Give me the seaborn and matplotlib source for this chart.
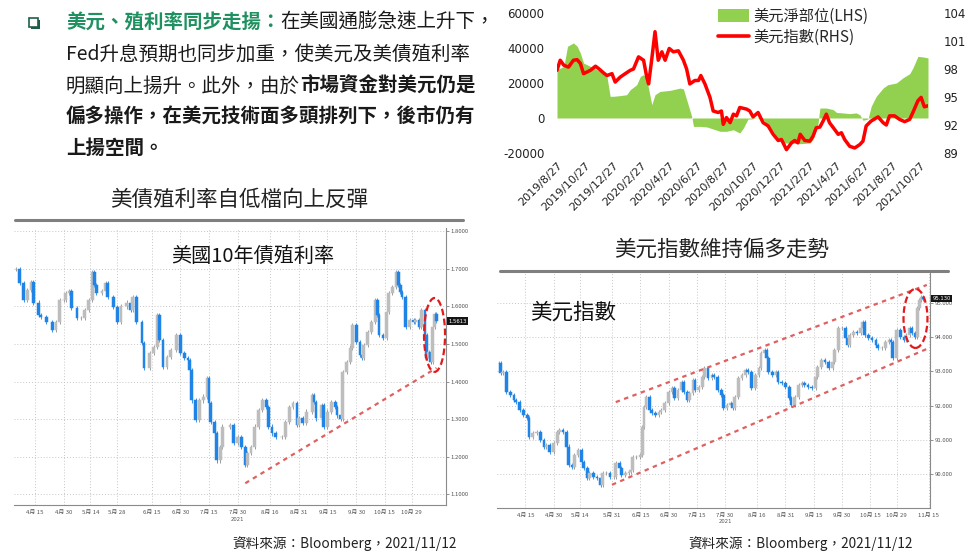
import numpy as np
import pandas as pd
import matplotlib
matplotlib.use("Agg")
import matplotlib.pyplot as plt
import matplotlib.transforms as mtransforms
import matplotlib.dates as mdates
from matplotlib.patches import Ellipse, Rectangle
from matplotlib.lines import Line2D
import seaborn as sns

sns.set_theme(style="white")
plt.rcParams['font.family'] = ['Noto Sans CJK TC', 'DejaVu Sans']
plt.rcParams['axes.unicode_minus'] = False

# ------------------------------------------------------------------ data
# Top-right: USD net position (LHS, weekly) and US dollar index (RHS)
pos_start = "2019-08-27"
pos_days = [0, 15, 23, 36, 44, 51, 58, 73, 87, 102,
            109, 116, 123, 138, 152, 160, 174, 182, 189, 196,
            207, 214, 225, 247, 269, 276, 283, 294, 298, 312,
            327, 341, 356, 370, 385, 399, 407, 417, 425, 436,
            450, 465, 472, 483, 494, 508, 530, 552, 559, 570,
            574, 588, 603, 610, 624, 639, 653, 661, 668, 679,
            686, 697, 712, 722, 741, 755, 770, 777, 788, 799, 810]
pos_values = [27600, 29500, 41000, 42900, 41000, 37100, 31400, 29500, 27600, 25700,
              23800, 12400, 12400, 12800, 13300, 16200, 19000, 23800, 24800, 21900,
              7600, 13300, 15200, 15800, 17100, 16600, 10500, 950, -4800, -4800,
              -5100, -6300, -7600, -7600, -6700, -8600, -5700, -570, -570, 0,
              -950, -4800, -7600, -12400, -14300, -14300, -14700, -14300, -12400, -2900,
              5700, 5700, 4800, 3200, 2900, 2500, 2900, 1900, -1300, -570,
              6700, 12400, 17100, 19000, 20000, 22900, 25300, 28600, 35200, 34900, 34300]
dxyw_days = [0, 7, 15, 25, 36, 44, 51, 58, 73, 84,
             91, 102, 109, 120, 127, 138, 149, 160, 167, 178,
             189, 196, 200, 207, 214, 221, 229, 236, 245, 254,
             265, 276, 283, 290, 301, 309, 314, 323, 334, 341,
             352, 359, 363, 370, 378, 385, 392, 399, 414, 421,
             428, 439, 450, 461, 472, 483, 490, 501, 512, 519,
             526, 531, 541, 552, 559, 566, 574, 581, 588, 595,
             606, 614, 621, 628, 639, 650, 661, 668, 675, 686,
             701, 712, 719, 726, 737, 748, 759, 770, 777, 788,
             795, 802, 810]
dxyw_values = [97.86, 98.94, 98.4, 98.2, 98.94, 99.0, 98.6, 97.5, 97.86, 98.3,
               98.04, 97.57, 97.3, 97.5, 96.6, 97.13, 97.5, 97.86, 98.0, 99.3,
               98.94, 97.13, 96.4, 99.1, 102.0, 98.94, 99.84, 98.94, 100.2, 99.84,
               99.95, 98.94, 98.0, 96.4, 96.77, 96.77, 97.3, 96.4, 94.96, 93.5,
               93.34, 93.5, 92.07, 92.8, 92.25, 93.16, 92.98, 93.88, 93.7, 93.5,
               92.87, 93.34, 92.25, 91.9, 91.0, 90.34, 90.45, 89.36, 90.09, 90.34,
               90.09, 91.0, 90.34, 90.27, 90.8, 91.7, 91.78, 92.43, 93.16, 92.25,
               91.53, 91.0, 91.17, 90.45, 89.72, 89.54, 89.9, 90.27, 91.9, 92.43,
               92.87, 92.25, 92.0, 92.98, 92.98, 92.6, 92.36, 92.6, 93.34, 94.6,
               94.96, 93.95, 94.06]
top_ticks = ["2019-08-27", "2019-10-27", "2019-12-27", "2020-02-27", "2020-04-27",
             "2020-06-27", "2020-08-27", "2020-10-27", "2020-12-27", "2021-02-27",
             "2021-04-27", "2021-06-27", "2021-08-27", "2021-10-27"]
top_tick_labels = ["2019/8/27", "2019/10/27", "2019/12/27", "2020/2/27", "2020/4/27",
                   "2020/6/27", "2020/8/27", "2020/10/27", "2020/12/27", "2021/2/27",
                   "2021/4/27", "2021/6/27", "2021/8/27", "2021/10/27"]
legend_labels = ["美元淨部位(LHS)", "美元指數(RHS)"]

# Bottom-left: US 10Y yield candles (closes; open = previous close)
y10_start = "2021-04-05"
y10_days = [0, 2, 4, 6, 8, 9, 12, 13, 16, 19,
            21, 23, 25, 26, 28, 29, 32, 34, 36, 38,
            40, 41, 42, 45, 47, 48, 51, 53, 55, 58,
            60, 61, 63, 66, 67, 70, 72, 74, 75, 77,
            79, 81, 84, 86, 88, 90, 91, 92, 94, 96,
            98, 100, 101, 102, 104, 105, 107, 108, 112, 114,
            116, 118, 120, 121, 123, 125, 127, 129, 131, 132,
            134, 136, 139, 141, 143, 145, 147, 148, 150, 152,
            155, 156, 157, 160, 161, 163, 165, 167, 168, 170,
            171, 173, 175, 176, 178, 180, 181, 182, 184, 186,
            188, 189, 190, 192, 194, 195, 197, 199, 200, 201,
            202, 204, 206, 208, 209, 211, 212, 214, 215, 216,
            217, 218, 219, 220]
y10_close = [1.700, 1.663, 1.617, 1.644, 1.665, 1.610, 1.577, 1.572, 1.559, 1.537,
             1.559, 1.617, 1.617, 1.636, 1.640, 1.596, 1.569, 1.569, 1.590, 1.617,
             1.692, 1.657, 1.636, 1.640, 1.663, 1.625, 1.599, 1.559, 1.600, 1.610,
             1.590, 1.625, 1.559, 1.503, 1.436, 1.476, 1.492, 1.577, 1.510, 1.440,
             1.465, 1.484, 1.524, 1.476, 1.462, 1.457, 1.430, 1.350, 1.297, 1.350,
             1.360, 1.410, 1.343, 1.292, 1.262, 1.190, 1.225, 1.280, 1.284, 1.236,
             1.252, 1.225, 1.177, 1.209, 1.225, 1.280, 1.324, 1.350, 1.332, 1.280,
             1.262, 1.252, 1.252, 1.292, 1.332, 1.343, 1.284, 1.302, 1.289, 1.320,
             1.364, 1.345, 1.302, 1.337, 1.280, 1.320, 1.345, 1.332, 1.310, 1.300,
             1.425, 1.452, 1.490, 1.550, 1.505, 1.470, 1.462, 1.497, 1.532, 1.559,
             1.617, 1.577, 1.524, 1.516, 1.585, 1.636, 1.652, 1.692, 1.657, 1.639,
             1.625, 1.545, 1.564, 1.559, 1.564, 1.545, 1.590, 1.524, 1.462, 1.479,
             1.452, 1.545, 1.580, 1.561]
y10_ticks = ["2021-04-15", "2021-04-30", "2021-05-14", "2021-05-28", "2021-06-15",
             "2021-06-30", "2021-07-15", "2021-07-30", "2021-08-16", "2021-08-31",
             "2021-09-15", "2021-09-30", "2021-10-15", "2021-10-29"]
y10_tick_labels = ["4月 15", "4月 30", "5月 14", "5月 28", "6月 15", "6月 30", "7月 15",
                   "7月 30", "8月 16", "8月 31", "9月 15", "9月 30", "10月 15", "10月 29"]
y10_levels = [1.1, 1.2, 1.3, 1.4, 1.5, 1.6, 1.7, 1.8]
y10_trend = (["2021-08-03", "2021-11-11"], [1.129, 1.436])

# Bottom-right: US dollar index candles
dxy_start = "2021-04-01"
dxy_days = [0, 1, 2, 4, 6, 8, 9, 11, 13, 15,
            16, 18, 20, 22, 24, 25, 27, 29, 31, 32,
            34, 36, 37, 39, 40, 42, 44, 45, 47, 48,
            50, 52, 54, 55, 57, 59, 61, 62, 64, 65,
            67, 69, 70, 71, 73, 75, 76, 77,
            78, 80, 81, 83, 85, 86, 88, 90, 92, 93,
            95, 97, 98, 100, 101, 103, 104, 106, 108, 109,
            111, 113, 114, 116, 118, 119, 121, 123, 124, 125,
            127, 129, 131, 132, 134, 136, 138, 139, 141, 142,
            143, 145, 147, 148, 150,
            152, 154, 155, 157, 159, 161, 162, 164, 166, 168,
            169, 171, 173, 175, 177, 178, 180, 182, 184, 185,
            186, 188, 190, 192, 193, 194, 196, 198, 200, 201,
            203, 205, 207, 208, 209, 211, 213, 215, 216, 218,
            219, 221, 222, 223, 224, 225]
dxy_close = [93.25, 92.95, 92.98, 92.4, 92.31, 92.16, 92.1, 91.87, 91.73, 91.64,
             91.08, 91.2, 91.23, 91.0, 90.8, 90.85, 90.64, 90.9, 91.23, 91.29,
             91.23, 90.8, 90.26, 90.2, 90.56, 90.7, 90.35, 90.18, 89.88, 90.03,
             89.91, 89.88, 89.68, 90.03, 90.03, 89.91, 89.91, 90.32, 90.18, 89.97,
             90.03, 90.06, 90.12, 90.5, 90.5, 90.56, 91.37, 91.96,
             92.25, 91.87, 91.78, 91.73, 91.81, 91.87, 92.07, 92.4, 92.51, 92.22,
             92.46, 92.69, 92.4, 92.16, 92.37, 92.75, 92.46, 92.54, 92.84, 93.1,
             92.81, 92.9, 92.84, 92.46, 92.31, 91.93, 92.02, 92.07, 91.93, 92.25,
             92.81, 92.9, 93.04, 92.98, 92.51, 92.9, 93.1, 93.54, 93.63, 93.39,
             92.98, 92.9, 92.98, 92.69, 92.66,
             92.54, 92.22, 92.02, 92.25, 92.6, 92.66, 92.6, 92.54, 92.51, 92.84,
             93.13, 93.33, 93.27, 93.1, 93.27, 93.63, 94.27, 94.27, 93.98, 93.77,
             94.06, 94.15, 94.12, 94.27, 94.44, 94.06, 93.98, 93.92, 93.77, 93.68,
             93.68, 93.86, 93.92, 93.86, 93.39, 94.21, 94.01, 93.92, 94.06, 94.27,
             94.12, 94.01, 94.85, 95.09, 95.17, 95.13]
dxy_ticks = ["2021-04-15", "2021-04-30", "2021-05-14", "2021-05-31", "2021-06-15",
             "2021-06-30", "2021-07-15", "2021-07-30", "2021-08-16", "2021-08-31",
             "2021-09-15", "2021-09-30", "2021-10-15", "2021-10-29", "2021-11-15"]
dxy_tick_labels = ["4月 15", "4月 30", "5月 14", "5月 31", "6月 15", "6月 30", "7月 15",
                   "7月 30", "8月 16", "8月 31", "9月 15", "9月 30", "10月 15", "10月 29",
                   "11月 15"]
dxy_levels = [90, 91, 92, 93, 94, 95]
dxy_upper = (["2021-06-02", "2021-11-14"], [92.1, 95.53])
dxy_lower = (["2021-05-31", "2021-11-15"], [89.68, 93.68])

# ------------------------------------------------------------------ style
W, H = 970, 556
GREEN = "#92D050"
RED = "#FF0000"
BLUE = "#1f84e6"
GREY = "#bdbdbd"
TREND = "#e06060"
TXT_GREEN = "#1f9160"

fig = plt.figure(figsize=(W / 100, H / 100), dpi=100)
fig.patch.set_facecolor("white")


def fbox(x0, y0, x1, y1):
    return [x0 / W, 1 - y1 / H, (x1 - x0) / W, (y1 - y0) / H]


def to_dates(start, days):
    return pd.Timestamp(start) + pd.to_timedelta(days, unit="D")


# ------------------------------------------------------------------ top-right chart
ax1 = fig.add_axes(fbox(557, 13, 928, 153))
pos_dates = to_dates(pos_start, pos_days)
dxyw_dates = to_dates(pos_start, dxyw_days)
ax1.fill_between(pos_dates, pos_values, 0, color=GREEN, linewidth=0)
ax1.set_ylim(-20000, 60000)
ax1.set_yticks([-20000, 0, 20000, 40000, 60000])
ax2 = ax1.twinx()
df_line = pd.DataFrame({"date": dxyw_dates, "value": dxyw_values})
sns.lineplot(data=df_line, x="date", y="value", ax=ax2, color=RED, linewidth=2.5)
ax2.set_ylim(89, 104)
ax2.set_yticks([89, 92, 95, 98, 101, 104])
ax1.set_xlim(pos_dates[0], pos_dates[-1])
ax1.set_xticks(pd.to_datetime(top_ticks))
ax1.set_xticklabels(top_tick_labels, rotation=45, ha="right", rotation_mode="anchor",
                    fontsize=8, family="DejaVu Sans", color="#222")
for a in (ax1, ax2):
    for s in a.spines.values():
        s.set_visible(False)
    a.set_xlabel("")
    a.set_ylabel("")
    a.set_facecolor("none")
ax1.tick_params(axis="y", length=0, pad=9, labelsize=8.5, labelcolor="#222")
ax1.tick_params(axis="x", length=0, pad=5)
ax2.tick_params(axis="y", length=0, pad=11, labelsize=8.5, labelcolor="#222")
for lab in ax1.get_yticklabels() + ax2.get_yticklabels():
    lab.set_family("DejaVu Sans")
handles = [Rectangle((0, 0), 1, 1, fc=GREEN, ec="none"),
           Line2D([], [], color=RED, lw=2.6)]
fig.legend(handles, legend_labels, loc="upper left",
           bbox_to_anchor=(718 / W, 1 - 8 / H), frameon=False, fontsize=11,
           handlelength=2.0, handleheight=0.9, handletextpad=0.3, labelspacing=0.25,
           borderaxespad=0, borderpad=0)


# ------------------------------------------------------------------ candle helper
def candle_chart(box, start, days, closes, levels, fmt, ticks, tick_labels,
                 xpad_right, wick, tag):
    ax = fig.add_axes(fbox(*box))
    dates = to_dates(start, days)
    c = np.asarray(closes, float)
    o = np.r_[c[0], c[:-1]]
    down = c < o
    lo = np.minimum(o, c)
    hi = np.maximum(o, c)
    body_col = np.where(down, BLUE, GREY)
    wick_col = np.where(down, BLUE, "#8e8e8e")
    ax.vlines(dates, lo - wick, hi + wick, colors=wick_col, linewidth=0.6, zorder=2)
    ax.bar(dates, hi - lo, bottom=lo, width=1.45, color=body_col,
           edgecolor=body_col, linewidth=0.35, zorder=3)
    s = pd.Timestamp(start)
    ax.set_xlim(s - pd.Timedelta(days=1), s + pd.Timedelta(days=xpad_right))
    ax.set_yticks(levels)
    ax.set_yticklabels([fmt.format(v) for v in levels])
    ax.yaxis.tick_right()
    ax.set_xticks(pd.to_datetime(ticks))
    ax.set_xticklabels(tick_labels)
    ax.grid(True, axis="both", linestyle=(0, (1, 2)), color="#c6c6c6", linewidth=0.7)
    ax.set_axisbelow(True)
    ax.tick_params(axis="both", labelsize=4.3, length=2, width=0.5, pad=1.5,
                   colors="#666", labelcolor="#555")
    for side in ("top", "left"):
        ax.spines[side].set_visible(False)
    for side in ("right", "bottom"):
        ax.spines[side].set_color("#8a8a8a")
        ax.spines[side].set_linewidth(0.8)
    ax.set_facecolor("white")
    # year label under July 30
    tr = mtransforms.blended_transform_factory(ax.transData, ax.transAxes)
    ax.text(mdates.date2num(pd.Timestamp("2021-07-30")), -0.045, "2021", transform=tr,
            fontsize=3.8, ha="center", va="top", color="#555", family="DejaVu Sans")
    # last value tag
    tr2 = mtransforms.blended_transform_factory(ax.transAxes, ax.transData)
    ax.text(1.006, c[-1], tag, transform=tr2, fontsize=3.8, color="white",
            ha="left", va="center", family="DejaVu Sans", clip_on=False,
            bbox=dict(boxstyle="square,pad=0.25", fc="#151515", ec="none"))
    return ax


# ------------------------------------------------------------------ bottom-left (10Y yield)
axL = candle_chart((14, 228, 446, 505), y10_start, y10_days, y10_close, y10_levels,
                   "{:.4f}", y10_ticks, y10_tick_labels, 225, 0.006, "1.5613")
axL.set_ylim(1.071, 1.809)
axL.plot(pd.to_datetime(y10_trend[0]), y10_trend[1], color=TREND, lw=1.6,
         linestyle=(0, (2, 2)), zorder=4)
axL.add_patch(Ellipse((mdates.date2num(pd.Timestamp(y10_start) + pd.Timedelta(days=219)), 1.524),
                      11, 0.197, fill=False, ec="#e31a1c", lw=1.6, ls=(0, (3, 1.5)), zorder=5))

# ------------------------------------------------------------------ bottom-right (DXY)
axR = candle_chart((497, 273, 930, 508), dxy_start, dxy_days, dxy_close, dxy_levels,
                   "{:.3f}", dxy_ticks, dxy_tick_labels, 228.7, 0.06, "95.130")
axR.set_ylim(89.0, 95.88)
for seg in (dxy_upper, dxy_lower):
    axR.plot(pd.to_datetime(seg[0]), seg[1], color=TREND, lw=1.6,
             linestyle=(0, (2, 2)), zorder=4)
axR.add_patch(Ellipse((mdates.date2num(pd.Timestamp(dxy_start) + pd.Timedelta(days=221)), 94.55),
                      12.7, 1.73, fill=False, ec="#e31a1c", lw=1.6, ls=(0, (3, 1.5)), zorder=5))

# ------------------------------------------------------------------ texts
renderer = fig.canvas.get_renderer()


def seg_line(x, y, segs, size=14):
    for txt, col, wt in segs:
        t = fig.text(x / W, 1 - y / H, txt, fontsize=size, color=col, fontweight=wt,
                     ha="left", va="center")
        x += t.get_window_extent(renderer=renderer).width


BLACK = "#1a1a1a"
seg_line(66, 22, [("美元、殖利率同步走揚：", TXT_GREEN, "bold"),
                  ("在美國通膨急速上升下，", BLACK, "normal")])
seg_line(66, 54, [("Fed升息預期也同步加重，使美元及美債殖利率", BLACK, "normal")])
seg_line(66, 86, [("明顯向上揚升。此外，由於", BLACK, "normal"),
                  ("市場資金對美元仍是", BLACK, "bold")])
seg_line(66, 117, [("偏多操作，在美元技術面多頭排列下，後市仍有", BLACK, "bold")])
seg_line(66, 148, [("上揚空間。", BLACK, "bold")])

# bullet box
fig.add_artist(Rectangle(((29 + 2) / W, 1 - (18 + 11) / H), 9 / W, 9 / H,
                         transform=fig.transFigure, fc="#1f5f4a", ec="none"))
fig.add_artist(Rectangle((29 / W, 1 - (18 + 9) / H), 9 / W, 9 / H,
                         transform=fig.transFigure, fc="white", ec="#1f5f4a", lw=1.2))

# section titles and rules
fig.text(239 / W, 1 - 200 / H, "美債殖利率自低檔向上反彈", fontsize=15.5, ha="center",
         va="center", color="#222")
fig.add_artist(Line2D([15 / W, 463 / W], [1 - 220 / H] * 2, color="#7f7f7f", lw=2.2))
fig.text(722 / W, 1 - 250 / H, "美元指數維持偏多走勢", fontsize=15.5, ha="center",
         va="center", color="#222")
fig.add_artist(Line2D([500 / W, 948 / W], [1 - 271 / H] * 2, color="#7f7f7f", lw=2.2))

# in-chart labels
fig.text(253 / W, 1 - 256 / H, "美國10年債殖利率", fontsize=14.5, ha="center",
         va="center", color="#111")
fig.text(530 / W, 1 - 313 / H, "美元指數", fontsize=15.5, ha="left",
         va="center", color="#111")

# sources
fig.text(232 / W, 1 - 544 / H, "資料來源：Bloomberg，2021/11/12", fontsize=9.8,
         ha="left", va="center", color="#222")
fig.text(688 / W, 1 - 544 / H, "資料來源：Bloomberg，2021/11/12", fontsize=9.8,
         ha="left", va="center", color="#222")

fig.savefig("out.png", dpi=100, facecolor="white")
